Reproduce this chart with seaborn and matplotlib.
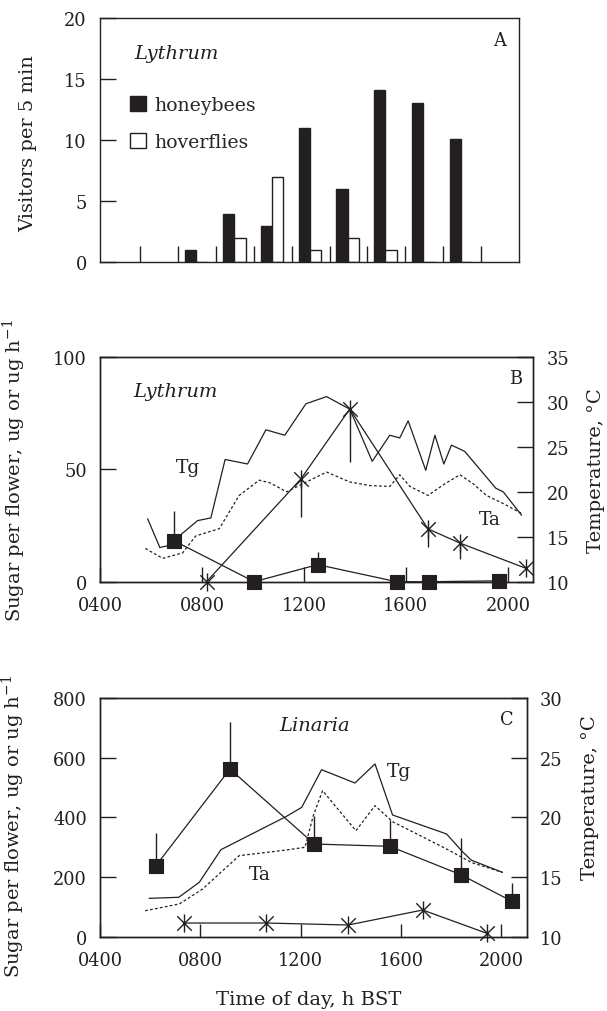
import numpy as np
import pandas as pd
import matplotlib
matplotlib.use('Agg')
import matplotlib.pyplot as plt
from matplotlib.patches import Patch
from matplotlib.path import Path
import seaborn as sns

# ---------------- data ----------------
# Panel A: visitors per 5 min (Lythrum), one pair of bars per time bin
bins_a = [2, 3, 4, 5, 6, 7, 8, 9]
honeybees = [1, 4, 3, 11, 6, 14.1, 13.1, 10.1]
hoverflies = [0, 2, 7, 1, 2, 1, 0, 0]

# Panel B: Lythrum
b_star_h = [8.18, 11.88, 13.8, 16.87, 18.12, 20.7]
b_star_v = [0, 45.7, 76.9, 23.5, 17.2, 6.0]
b_star_err = [0, 17.0, 23.5, 8.2, 7.1, 0]          # drawn below the point
b_sq_h = [6.91, 10.05, 12.54, 15.64, 16.91, 19.66]
b_sq_v = [18.2, 0, 7.6, 0, 0, 0.4]
b_sq_err = [13.4, 0, 5.5, 0, 0, 0]                 # drawn above the point
b_tg_h = [5.87, 6.35, 6.65, 7.83, 8.35, 8.91, 9.79, 10.51, 11.25, 12.08, 12.89,
          13.8, 14.68, 15.37, 15.76, 16.09, 16.78, 17.14, 17.49, 17.79, 18.31,
          19.53, 19.82, 20.54]
b_tg_t = [17.0, 13.8, 14.0, 16.8, 17.1, 23.6, 23.1, 26.9, 26.3, 29.8, 30.6,
          29.2, 23.4, 26.3, 26.0, 27.9, 22.4, 26.3, 23.1, 25.2, 24.5,
          20.4, 20.0, 17.4]
b_ta_h = [5.78, 6.46, 7.24, 7.76, 8.68, 9.46, 10.25, 10.67, 11.32, 12.1, 12.89,
          13.8, 14.59, 15.37, 15.76, 16.16, 16.87, 17.53, 18.12, 18.64, 19.16,
          19.82, 20.54]
b_ta_t = [13.7, 12.6, 13.2, 15.1, 15.9, 19.6, 21.3, 21.0, 20.0, 21.1, 22.2,
          21.1, 20.7, 20.6, 21.9, 20.6, 19.6, 20.9, 21.9, 20.9, 19.6,
          18.7, 17.6]

# Panel C: Linaria
c_star_h = [7.33, 10.61, 13.89, 16.86, 19.42]
c_star_v = [45.3, 45.3, 38.6, 88.9, 10.7]
c_star_err = [0, 0, 0, 0, 0]
c_sq_h = [6.23, 9.18, 12.54, 15.55, 18.38, 20.42]
c_sq_v = [237.5, 561.8, 310.2, 302.5, 207.3, 118]
c_sq_err = [109.5, 158.7, 94.8, 88.2, 123.1, 60.4]
c_tg_h = [5.96, 7.14, 7.96, 8.82, 11.41, 12.04, 12.83, 14.16, 14.96, 15.66,
          17.81, 18.45, 18.8, 20.04]
c_tg_t = [13.2, 13.29, 14.55, 17.28, 20.05, 20.83, 23.99, 22.87, 24.47, 20.19,
          18.6, 17.1, 16.4, 15.38]
c_ta_h = [5.8, 7.16, 8.09, 8.89, 9.55, 11.41, 12.17, 12.5, 12.87, 14.2, 14.96,
          15.66, 17.81, 18.81, 20.04]
c_ta_t = [12.16, 12.73, 13.98, 15.52, 16.78, 17.25, 17.48, 20.13, 22.23, 18.87,
          20.97, 19.63, 17.34, 16.2, 15.38]

time_ticks = [4, 8, 12, 16, 20]
time_labels = ['0400', '0800', '1200', '1600', '2000']
ylabel_sugar = r'Sugar per flower, ug or ug h$^{-1}$'

# ---------------- style ----------------
sns.set_theme(style='ticks')
plt.rcParams['font.family'] = ['DejaVu Serif']
plt.rcParams['mathtext.fontset'] = 'dejavuserif'
FS = 12.8      # tick labels, panel letters
FL = 14.0      # axis labels, species names
ink = '#231f20'
plt.rcParams['axes.edgecolor'] = ink
plt.rcParams['axes.linewidth'] = 1.0

# asterisk marker: an X with a vertical bar
star = Path([(-0.8, -0.8), (0.8, 0.8), (-0.8, 0.8), (0.8, -0.8), (0, -1), (0, 1)],
            [Path.MOVETO, Path.LINETO, Path.MOVETO, Path.LINETO, Path.MOVETO, Path.LINETO])

fig = plt.figure(figsize=(6.07, 10.12), dpi=100)


def style_ticks(ax, xlen, ylen):
    ax.tick_params(axis='both', direction='in', labelsize=FS, colors=ink,
                   width=1.0)
    ax.tick_params(axis='x', length=xlen, pad=10.5)
    ax.tick_params(axis='y', length=ylen, pad=9.5)


# ---------------- Panel A ----------------
axA = fig.add_axes([0.1647, 0.7398, 0.6903, 0.2411])
df_a = pd.DataFrame({
    'bin': np.array(bins_a * 2) + 0.48,
    'count': honeybees + hoverflies,
    'visitor': ['honeybees'] * len(bins_a) + ['hoverflies'] * len(bins_a),
})
sns.barplot(data=df_a, x='bin', y='count', hue='visitor', native_scale=True,
            width=0.6, palette=[ink, 'white'], edgecolor=ink, linewidth=1.0,
            saturation=1, legend=False, ax=axA)
axA.set_xlim(-0.07, 11.01)
axA.set_ylim(0, 20)
axA.set_xticks(range(1, 11))
axA.set_xticklabels([])
axA.set_yticks([0, 5, 10, 15, 20])
axA.set_xlabel('')
axA.set_ylabel('Visitors per 5 min', fontsize=FL, color=ink)
axA.yaxis.set_label_coords(-0.150, 0.49)
style_ticks(axA, 11.5, 11.5)
axA.text(0.183, 0.857, 'Lythrum', style='italic', fontsize=FL, ha='center',
         va='center', transform=axA.transAxes, color=ink)
axA.text(0.953, 0.912, 'A', fontsize=FS, ha='center', va='center',
         transform=axA.transAxes, color=ink)
handles = [Patch(facecolor=ink, edgecolor=ink, lw=1.0),
           Patch(facecolor='white', edgecolor=ink, lw=1.0)]
axA.legend(handles, ['honeybees', 'hoverflies'], loc='upper left',
           bbox_to_anchor=(0.072, 0.68), frameon=False, fontsize=13.6,
           handlelength=0.85, handleheight=0.85, handletextpad=0.45,
           labelspacing=1.0, borderpad=0, borderaxespad=0)


# ---------------- Panels B and C ----------------
def sugar_panel(rect, sq_h, sq_v, sq_err, st_h, st_v, st_err,
                tg_h, tg_t, ta_h, ta_t, yticks, tmax, xlen):
    ax = fig.add_axes(rect)
    tw = ax.twinx()
    # temperature traces
    sns.lineplot(x=tg_h, y=tg_t, sort=False, estimator=None, color=ink,
                 lw=0.9, ax=tw)
    sns.lineplot(x=ta_h, y=ta_t, sort=False, estimator=None, color=ink,
                 lw=0.9, linestyle=(0, (2.2, 1.8)), ax=tw)
    # sugar series
    sns.lineplot(x=sq_h, y=sq_v, sort=False, estimator=None, color=ink,
                 lw=0.9, ax=ax)
    sns.lineplot(x=st_h, y=st_v, sort=False, estimator=None, color=ink,
                 lw=0.9, ax=ax)
    ax.errorbar(sq_h, sq_v, yerr=[np.zeros(len(sq_err)), sq_err], fmt='none',
                ecolor=ink, elinewidth=1.0, capsize=0, zorder=3)
    ax.errorbar(st_h, st_v, yerr=[st_err, np.zeros(len(st_err))], fmt='none',
                ecolor=ink, elinewidth=1.0, capsize=0, zorder=3)
    sns.scatterplot(x=sq_h, y=sq_v, marker='s', s=112, color=ink,
                    edgecolor=ink, linewidth=0.8, zorder=4, ax=ax,
                    clip_on=False)
    sns.scatterplot(x=st_h, y=st_v, marker=star, s=170, color=ink,
                    edgecolor=ink, linewidth=1.0, zorder=4, ax=ax,
                    clip_on=False)
    ax.set_xlim(4, 21)
    ax.set_ylim(yticks[0], yticks[-1])
    tw.set_ylim(10, tmax)
    ax.set_xticks(time_ticks)
    ax.set_xticklabels(time_labels)
    ax.set_yticks(yticks)
    tw.set_yticks(list(range(10, tmax + 1, 5)))
    style_ticks(ax, xlen, 11.5)
    tw.tick_params(axis='y', direction='in', length=11.5, pad=9.5,
                   labelsize=FS, colors=ink, width=1.0)
    ax.set_zorder(tw.get_zorder() + 1)
    ax.patch.set_visible(False)
    ax.set_ylabel(ylabel_sugar, fontsize=FL, color=ink)
    tw.set_ylabel('Temperature, °C', fontsize=FL, color=ink)
    return ax, tw


axB, twB = sugar_panel([0.1647, 0.4242, 0.7139, 0.2220],
                       b_sq_h, b_sq_v, b_sq_err, b_star_h, b_star_v, b_star_err,
                       b_tg_h, b_tg_t, b_ta_h, b_ta_t, [0, 50, 100], 35, 10.5)
axB.yaxis.set_label_coords(-0.166, 0.5)
twB.yaxis.set_label_coords(1.124, 0.5)
axB.text(0.175, 0.85, 'Lythrum', style='italic', fontsize=FL, ha='center',
         va='center', transform=axB.transAxes, color=ink)
axB.text(0.96, 0.905, 'B', fontsize=FS, ha='center', va='center',
         transform=axB.transAxes, color=ink)
axB.text(7.47, 51, 'Tg', fontsize=13.5, ha='center', va='center', color=ink)
axB.text(19.29, 27.9, 'Ta', fontsize=13.5, ha='center', va='center', color=ink)

axC, twC = sugar_panel([0.1647, 0.0736, 0.7028, 0.2357],
                       c_sq_h, c_sq_v, c_sq_err, c_star_h, c_star_v, c_star_err,
                       c_tg_h, c_tg_t, c_ta_h, c_ta_t, [0, 200, 400, 600, 800],
                       30, 9.5)
axC.yaxis.set_label_coords(-0.172, 0.465)
twC.yaxis.set_label_coords(1.128, 0.585)
axC.set_xlabel('Time of day, h BST', fontsize=FL, color=ink)
axC.xaxis.set_label_coords(0.489, -0.225)
axC.text(0.503, 0.887, 'Linaria', style='italic', fontsize=FL, ha='center',
         va='center', transform=axC.transAxes, color=ink)
axC.text(0.953, 0.912, 'C', fontsize=FS, ha='center', va='center',
         transform=axC.transAxes, color=ink)
axC.text(15.92, 556, 'Tg', fontsize=13.5, ha='center', va='center', color=ink)
axC.text(10.35, 209.6, 'Ta', fontsize=13.5, ha='center', va='center', color=ink)

fig.savefig('out.png', dpi=100)
